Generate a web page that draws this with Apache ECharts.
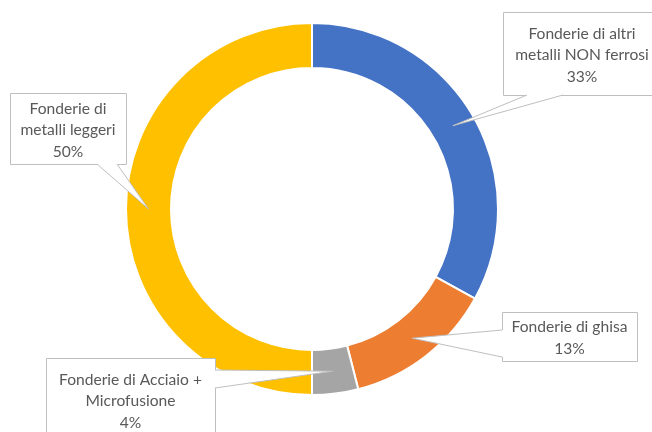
<!DOCTYPE html>
<html>
<head>
<meta charset="utf-8">
<script src="https://cdn.jsdelivr.net/npm/echarts@6/dist/echarts.min.js"></script>
<style>
  html, body { margin: 0; padding: 0; background: #ffffff; }
  #chart { width: 652px; height: 432px; }
</style>
</head>
<body>
<div id="chart"></div>
<script>
// Quote per tipologia di fonderia (percentuali)
const categories = [
  'Fonderie di altri metalli NON ferrosi',
  'Fonderie di ghisa',
  'Fonderie di Acciaio + Microfusione',
  'Fonderie di metalli leggeri'
];
const values = [33, 13, 4, 50];
// Testo dei riquadri, una riga per elemento
const labelLines = [
  ['Fonderie di altri', 'metalli NON ferrosi'],
  ['Fonderie di ghisa'],
  ['Fonderie di Acciaio +', 'Microfusione'],
  ['Fonderie di', 'metalli leggeri']
];
const colors = ['#4472C4', '#ED7D31', '#A5A5A5', '#FFC000'];

// Riquadri dei richiami e base della punta (lato e due posizioni lungo il lato)
const boxes = [
  { x: 503, y: 12, w: 162, h: 83, side: 'bottom', a: 527, b: 563, dx: -2 },
  { x: 502, y: 312, w: 135, h: 49, side: 'left', a: 330, b: 357, dx: 0 },
  { x: 46, y: 358, w: 169, h: 83, side: 'right', a: 370, b: 388, dx: 0 },
  { x: 10, y: 93, w: 116, h: 71, side: 'bottom', a: 97, b: 117, dx: 0 }
];

const CENTER = [312, 209];
const RADIUS = [141, 186];
const FONT = '15.6px Lato, "Open Sans", sans-serif';
const TEXT_COLOR = '#595959';
const LINE_COLOR = '#BFBFBF';

const chart = echarts.init(document.getElementById('chart'), null, { renderer: 'canvas' });

chart.setOption({
  animation: false,
  backgroundColor: '#ffffff',
  series: [{
    type: 'pie',
    center: CENTER,
    radius: RADIUS,
    startAngle: 90,
    clockwise: true,
    silent: true,
    label: { show: false },
    labelLine: { show: false },
    emphasis: { disabled: true },
    itemStyle: { borderColor: '#ffffff', borderWidth: 2 },
    data: categories.map((name, i) => ({
      name: name,
      value: values[i],
      itemStyle: { color: colors[i] }
    }))
  }]
});

// Punto di ancoraggio di ogni richiamo: metà angolo e metà spessore della corona
function anchorPoints() {
  let layouts = null;
  try {
    const data = chart.getModel().getSeriesByIndex(0).getData();
    layouts = values.map((_, i) => data.getItemLayout(i));
  } catch (e) { layouts = null; }
  const total = values.reduce((s, v) => s + v, 0);
  let acc = 0;
  return values.map((v, i) => {
    let cx, cy, r, r0, ang;
    const l = layouts && layouts[i];
    if (l && isFinite(l.startAngle)) {
      cx = l.cx; cy = l.cy; r = l.r; r0 = l.r0;
      ang = (l.startAngle + l.endAngle) / 2;
    } else {
      cx = CENTER[0]; cy = CENTER[1]; r = RADIUS[1]; r0 = RADIUS[0];
      ang = -Math.PI / 2 + 2 * Math.PI * (acc + v / 2) / total;
    }
    acc += v;
    const rm = (r + r0) / 2;
    return [cx + rm * Math.cos(ang), cy + rm * Math.sin(ang)];
  });
}

const tips = anchorPoints();
const graphics = [];

boxes.forEach((bx, i) => {
  let p1, p2, q1, q2;
  if (bx.side === 'bottom') {
    const yb = bx.y + bx.h;
    p1 = [bx.a, yb]; p2 = [bx.b, yb];
    q1 = [bx.a, yb - 2]; q2 = [bx.b, yb - 2];
  } else if (bx.side === 'left') {
    p1 = [bx.x, bx.a]; p2 = [bx.x, bx.b];
    q1 = [bx.x + 2, bx.a]; q2 = [bx.x + 2, bx.b];
  } else {
    const xr = bx.x + bx.w;
    p1 = [xr, bx.a]; p2 = [xr, bx.b];
    q1 = [xr - 2, bx.a]; q2 = [xr - 2, bx.b];
  }
  // riquadro
  graphics.push({
    type: 'rect', z: 10, silent: true,
    shape: { x: bx.x + 0.5, y: bx.y + 0.5, width: bx.w, height: bx.h },
    style: { fill: '#ffffff', stroke: LINE_COLOR, lineWidth: 1 }
  });
  // riempimento della punta
  graphics.push({
    type: 'polygon', z: 11, silent: true,
    shape: { points: [q1, p1, tips[i], p2, q2] },
    style: { fill: '#ffffff', stroke: null }
  });
  // contorno della punta
  graphics.push({
    type: 'polyline', z: 12, silent: true,
    shape: { points: [p1, tips[i], p2] },
    style: { stroke: LINE_COLOR, lineWidth: 1, fill: null }
  });
  // testo: nome e percentuale
  const text = labelLines[i].concat([values[i] + '%']).join('\n');
  graphics.push({
    type: 'text', z: 13, silent: true,
    style: {
      text: text,
      x: bx.x + bx.w / 2 + bx.dx,
      y: bx.y + bx.h / 2 + 1.5,
      align: 'center',
      verticalAlign: 'middle',
      font: FONT,
      lineHeight: 21.5,
      fill: TEXT_COLOR
    }
  });
});

chart.setOption({ graphic: graphics });
</script>
</body>
</html>
